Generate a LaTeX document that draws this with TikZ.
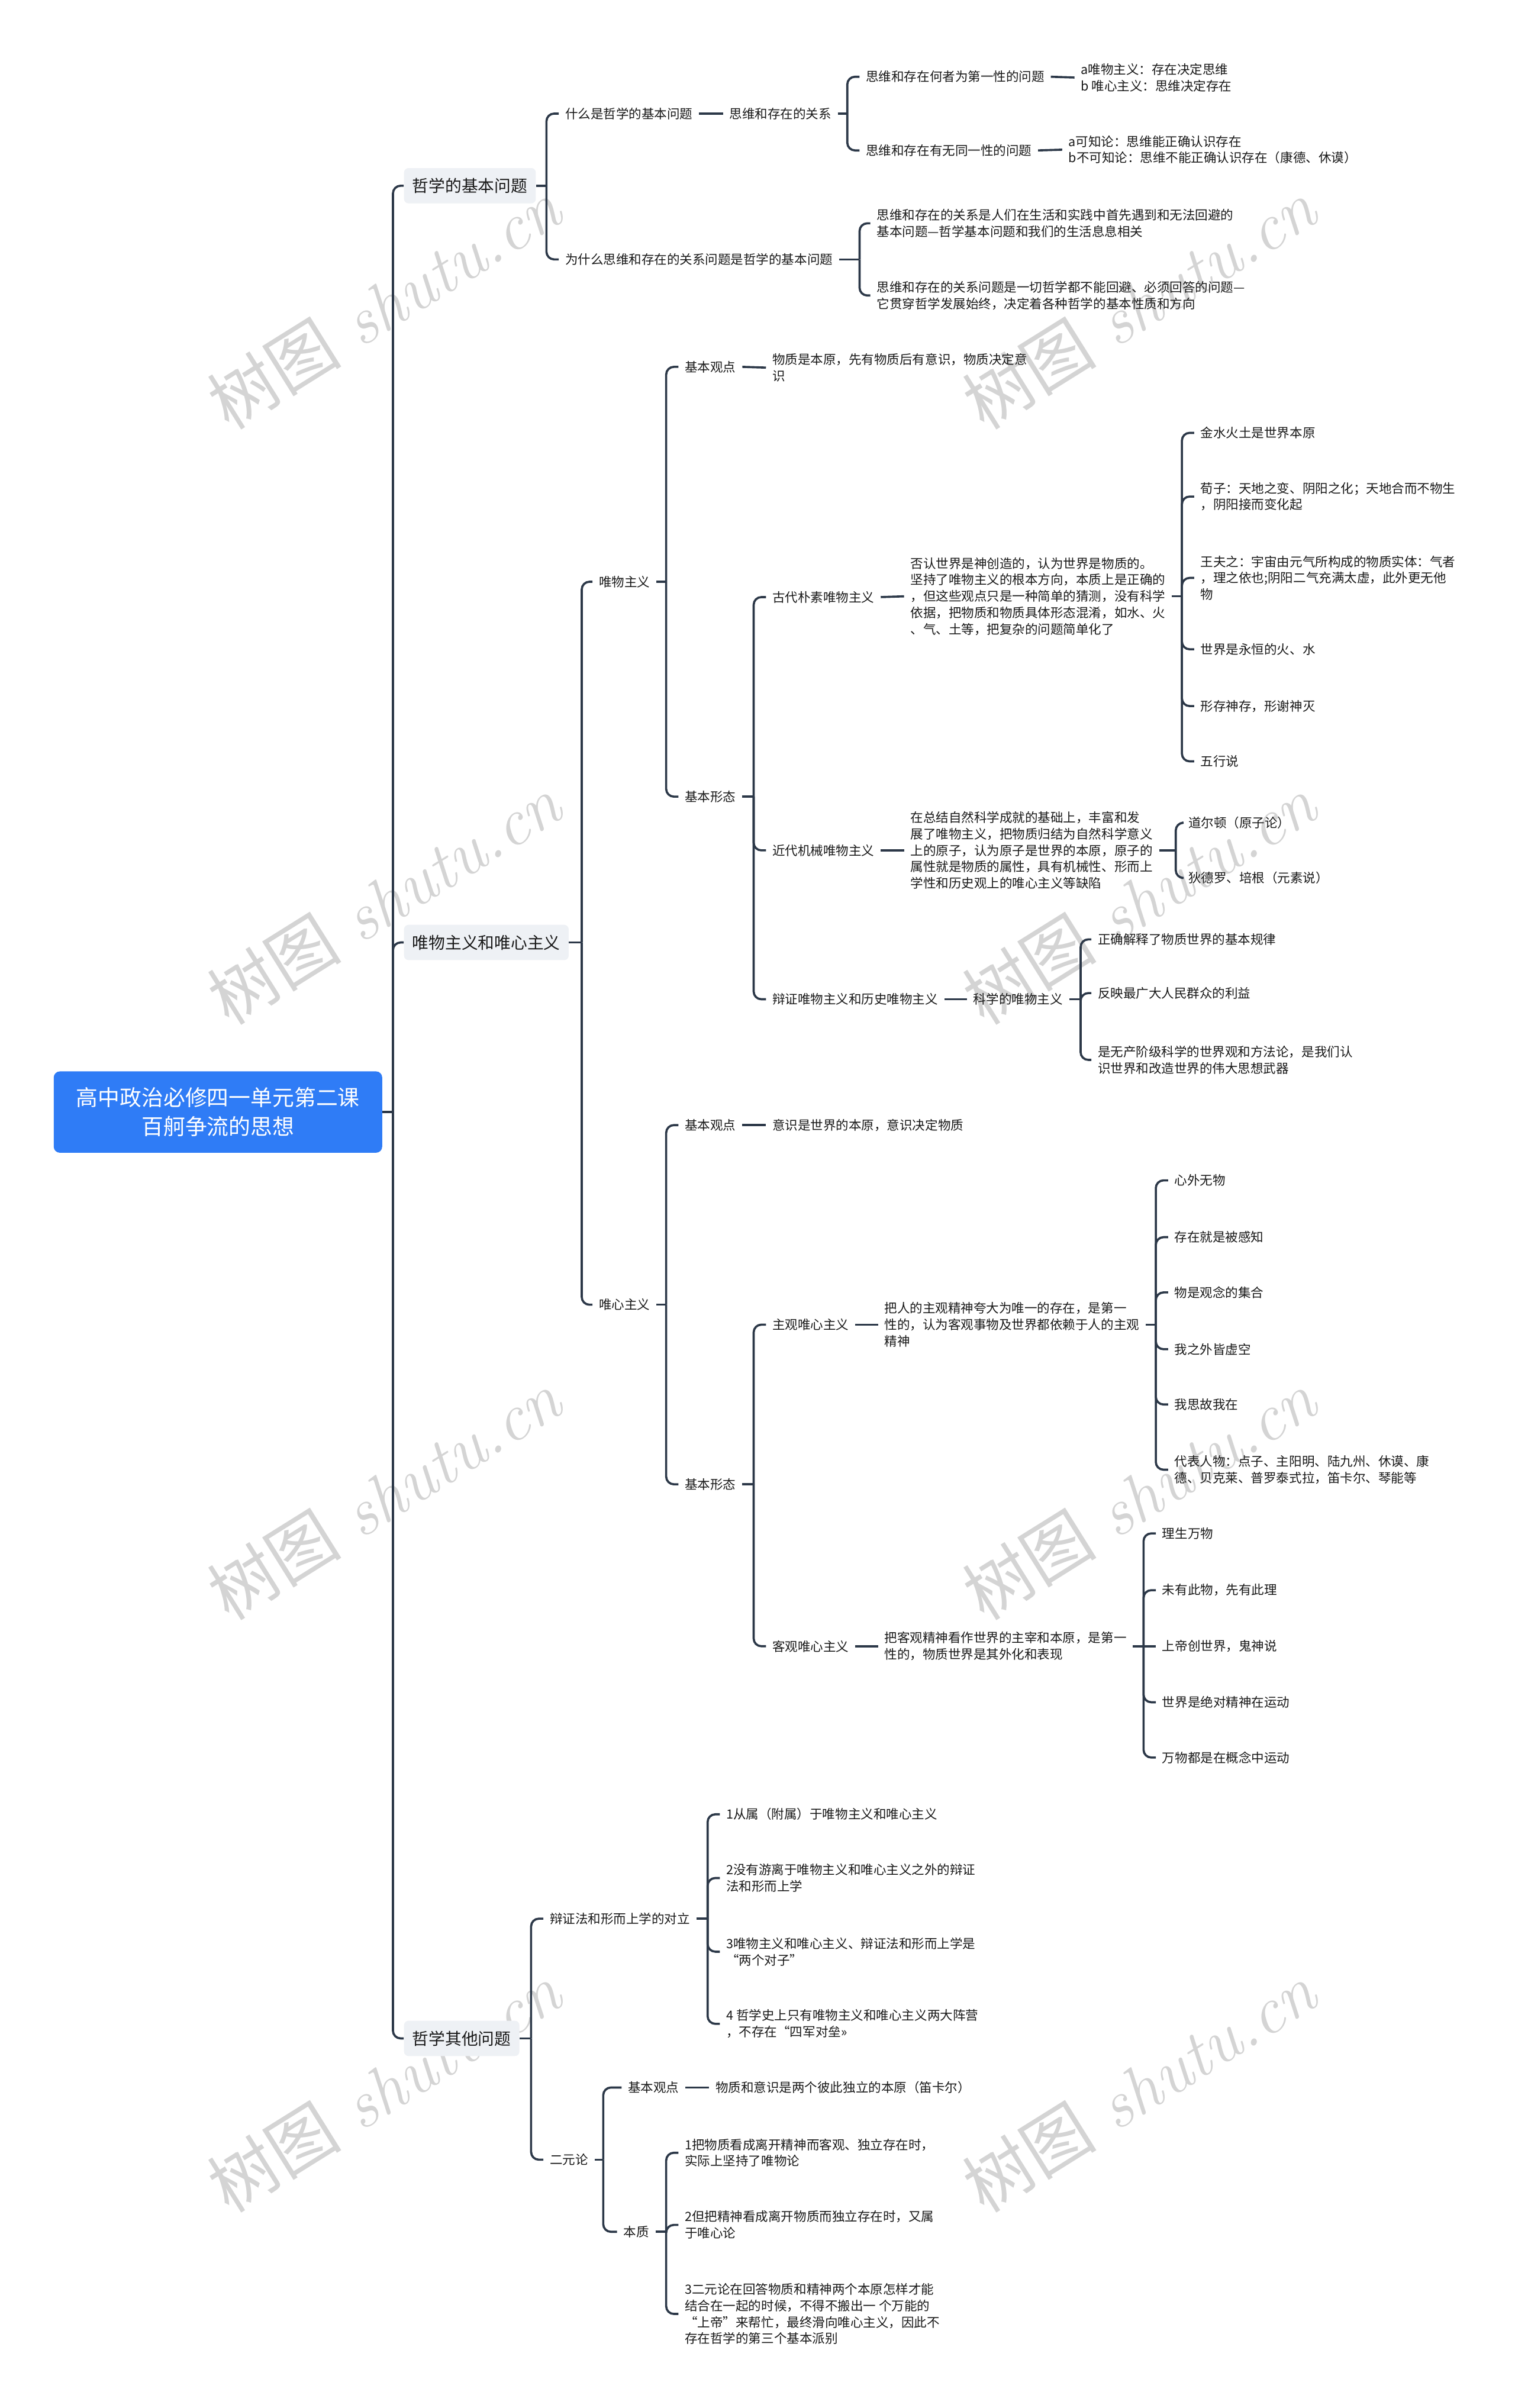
\documentclass[tikz,border=0pt]{standalone}
\usepackage{fontspec}
\newfontfamily\cjk{Noto Sans CJK SC}
\definecolor{ln}{RGB}{44,56,72}
\definecolor{blu}{RGB}{47,124,246}
\definecolor{lvl}{RGB}{238,241,245}
\newcommand\stem[2]{\draw[conn] (#1.east) -- (#2);}
\newcommand\br[2]{\draw[conn] (#1) -- (#1 |- #2.west) -- (#2.west);}
\newcommand\lk[2]{\draw[conn] (#1.east) -- (#2.west);}
\begin{document}
\begin{tikzpicture}[x=1pt,y=-1pt,
 t/.style={font=\cjk\fontsize{8.3}{10.7}\selectfont, inner xsep=4pt, inner ysep=1pt, anchor=west, align=left, text=black!90},
 lone/.style={font=\cjk\fontsize{10.7}{13}\selectfont, fill=lvl, rounded corners=3pt, inner xsep=5.5pt, inner ysep=0pt, minimum height=23pt, anchor=west, text=black!90},
 rootbox/.style={font=\cjk\fontsize{14.2}{19}\selectfont, fill=blu, text=white, rounded corners=4pt, minimum width=214pt, minimum height=53pt, align=center},
 conn/.style={draw=ln, line width=1.4pt, rounded corners=5pt},
 wm/.style={text=black!17, rotate=32, font=\fontsize{44}{44}\selectfont}
]
\fill[white] (0,0) rectangle (987,1568.8);
\useasboundingbox (0,0) rectangle (987,1568.8);
% watermarks
\foreach \wx in {250,742}{
 \foreach \wy in {198,586,974,1360}{
  \node[wm] (w\wx\wy) at (\wx,\wy) {{\cjk 树图} {\itshape shutu.cn}};
 }
}
% root
\node[rootbox] (root) at (142,724.5) {高中政治必修四一单元第二课\\百舸争流的思想};
\coordinate (s0) at (256,724.5);
\node[lone] (A) at (263,121) {哲学的基本问题};
\node[lone] (B) at (263,614) {唯物主义和唯心主义};
\node[lone] (C) at (263,1328) {哲学其他问题};
\stem{root}{s0}
\br{s0}{A}\br{s0}{B}\br{s0}{C}

% ---- A
\coordinate (sA) at (356,121);
\node[t] (A1) at (364,74) {什么是哲学的基本问题};
\node[t] (A2) at (364,169) {为什么思维和存在的关系问题是哲学的基本问题};
\stem{A}{sA}\br{sA}{A1}\br{sA}{A2}
\node[t] (A11) at (471,74) {思维和存在的关系};
\lk{A1}{A11}
\coordinate (sA11) at (552,74);
\node[t] (A111) at (560,50) {思维和存在何者为第一性的问题};
\node[t] (A112) at (560,98) {思维和存在有无同一性的问题};
\stem{A11}{sA11}\br{sA11}{A111}\br{sA11}{A112}
\node[t] (A1111) at (700,50.5) {a唯物主义：存在决定思维\\b 唯心主义：思维决定存在};
\node[t] (A1121) at (692,97.5) {a可知论：思维能正确认识存在\\b不可知论：思维不能正确认识存在（康德、休谟）};
\lk{A111}{A1111}\lk{A112}{A1121}
\coordinate (sA2) at (560,169);
\node[t] (A21) at (567,145.5) {思维和存在的关系是人们在生活和实践中首先遇到和无法回避的\\基本问题—哲学基本问题和我们的生活息息相关};
\node[t] (A22) at (567,192.5) {思维和存在的关系问题是一切哲学都不能回避、必须回答的问题—\\它贯穿哲学发展始终，决定着各种哲学的基本性质和方向};
\stem{A2}{sA2}\br{sA2}{A21}\br{sA2}{A22}

% ---- B
\coordinate (sB) at (379,614);
\node[t] (B1) at (386,379) {唯物主义};
\node[t] (B2) at (386,850) {唯心主义};
\stem{B}{sB}\br{sB}{B1}\br{sB}{B2}
\coordinate (sB1) at (434,379);
\node[t] (B11) at (442,239) {基本观点};
\node[t] (B12) at (442,519) {基本形态};
\stem{B1}{sB1}\br{sB1}{B11}\br{sB1}{B12}
\node[t] (B111) at (499,239.5) {物质是本原，先有物质后有意识，物质决定意\\识};
\lk{B11}{B111}
\coordinate (sB12) at (491,519);
\node[t] (B121) at (499,389) {古代朴素唯物主义};
\node[t] (B122) at (499,554) {近代机械唯物主义};
\node[t] (B123) at (499,651) {辩证唯物主义和历史唯物主义};
\stem{B12}{sB12}\br{sB12}{B121}\br{sB12}{B122}\br{sB12}{B123}
\node[t] (B1211) at (589,388.5) {否认世界是神创造的，认为世界是物质的。\\坚持了唯物主义的根本方向，本质上是正确的\\，但这些观点只是一种简单的猜测，没有科学\\依据，把物质和物质具体形态混淆，如水、火\\、气、土等，把复杂的问题简单化了};
\lk{B121}{B1211}
\coordinate (sB1211) at (770,388.5);
\node[t] (g1) at (778,282) {金水火土是世界本原};
\node[t] (g2) at (778,323.5) {荀子：天地之变、阴阳之化；天地合而不物生\\，阴阳接而变化起};
\node[t] (g3) at (778,376.5) {王夫之：宇宙由元气所构成的物质实体：气者\\，理之依也;阴阳二气充满太虚，此外更无他\\物};
\node[t] (g4) at (778,423) {世界是永恒的火、水};
\node[t] (g5) at (778,460) {形存神存，形谢神灭};
\node[t] (g6) at (778,496) {五行说};
\stem{B1211}{sB1211}
\br{sB1211}{g1}\br{sB1211}{g2}\br{sB1211}{g3}\br{sB1211}{g4}\br{sB1211}{g5}\br{sB1211}{g6}
\node[t] (B1221) at (589,554) {在总结自然科学成就的基础上，丰富和发\\展了唯物主义，把物质归结为自然科学意义\\上的原子，认为原子是世界的本原，原子的\\属性就是物质的属性，具有机械性、形而上\\学性和历史观上的唯心主义等缺陷};
\lk{B122}{B1221}
\coordinate (sB1221) at (766,554);
\node[t] (j1) at (770,536) {道尔顿（原子论）};
\node[t] (j2) at (770,572) {狄德罗、培根（元素说）};
\stem{B1221}{sB1221}\br{sB1221}{j1}\br{sB1221}{j2}
\node[t] (B1231) at (630,651) {科学的唯物主义};
\lk{B123}{B1231}
\coordinate (sB1231) at (704,651);
\node[t] (k1) at (711,612) {正确解释了物质世界的基本规律};
\node[t] (k2) at (711,647) {反映最广大人民群众的利益};
\node[t] (k3) at (711,690.5) {是无产阶级科学的世界观和方法论，是我们认\\识世界和改造世界的伟大思想武器};
\stem{B1231}{sB1231}\br{sB1231}{k1}\br{sB1231}{k2}\br{sB1231}{k3}

\coordinate (sB2) at (434,850);
\node[t] (B21) at (442,733) {基本观点};
\node[t] (B22) at (442,967) {基本形态};
\stem{B2}{sB2}\br{sB2}{B21}\br{sB2}{B22}
\node[t] (B211) at (499,733) {意识是世界的本原，意识决定物质};
\lk{B21}{B211}
\coordinate (sB22) at (491,967);
\node[t] (B221) at (499,863) {主观唯心主义};
\node[t] (B222) at (499,1072.5) {客观唯心主义};
\stem{B22}{sB22}\br{sB22}{B221}\br{sB22}{B222}
\node[t] (B2211) at (572,863) {把人的主观精神夸大为唯一的存在，是第一\\性的，认为客观事物及世界都依赖于人的主观\\精神};
\lk{B221}{B2211}
\coordinate (sB2211) at (753,863);
\node[t] (m1) at (761,769) {心外无物};
\node[t] (m2) at (761,806) {存在就是被感知};
\node[t] (m3) at (761,842) {物是观念的集合};
\node[t] (m4) at (761,879) {我之外皆虚空};
\node[t] (m5) at (761,915) {我思故我在};
\node[t] (m6) at (761,957.5) {代表人物：点子、主阳明、陆九州、休谟、康\\德、贝克莱、普罗泰式拉，笛卡尔、琴能等};
\stem{B2211}{sB2211}
\br{sB2211}{m1}\br{sB2211}{m2}\br{sB2211}{m3}\br{sB2211}{m4}\br{sB2211}{m5}\br{sB2211}{m6}
\node[t] (B2221) at (572,1072.5) {把客观精神看作世界的主宰和本原，是第一\\性的，物质世界是其外化和表现};
\lk{B222}{B2221}
\coordinate (sB2221) at (745,1072.5);
\node[t] (n1) at (753,999) {理生万物};
\node[t] (n2) at (753,1036) {未有此物，先有此理};
\node[t] (n3) at (753,1072.5) {上帝创世界，鬼神说};
\node[t] (n4) at (753,1109) {世界是绝对精神在运动};
\node[t] (n5) at (753,1145) {万物都是在概念中运动};
\stem{B2221}{sB2221}
\br{sB2221}{n1}\br{sB2221}{n2}\draw[conn] (sB2221) -- (n3.west);\br{sB2221}{n4}\br{sB2221}{n5}

% ---- C
\coordinate (sC) at (346,1328);
\node[t] (C1) at (354,1250) {辩证法和形而上学的对立};
\node[t] (C2) at (354,1407) {二元论};
\stem{C}{sC}\br{sC}{C1}\br{sC}{C2}
\coordinate (sC1) at (461,1250);
\node[t] (p1) at (469,1182) {1从属（附属）于唯物主义和唯心主义};
\node[t] (p2) at (469,1223.5) {2没有游离于唯物主义和唯心主义之外的辩证\\法和形而上学};
\node[t] (p3) at (469,1271.5) {3唯物主义和唯心主义、辩证法和形而上学是\\“两个对子”};
\node[t] (p4) at (469,1318.5) {4 哲学史上只有唯物主义和唯心主义两大阵营\\，不存在“四军对垒»};
\stem{C1}{sC1}\br{sC1}{p1}\br{sC1}{p2}\br{sC1}{p3}\br{sC1}{p4}
\coordinate (sC2) at (393,1407);
\node[t] (C21) at (405,1360) {基本观点};
\node[t] (C22) at (402,1454) {本质};
\stem{C2}{sC2}\br{sC2}{C21}\br{sC2}{C22}
\node[t] (C211) at (462,1360) {物质和意识是两个彼此独立的本原（笛卡尔）};
\lk{C21}{C211}
\coordinate (sC22) at (434,1454);
\node[t] (q1) at (442,1402.5) {1把物质看成离开精神而客观、独立存在时，\\实际上坚持了唯物论};
\node[t] (q2) at (442,1449.5) {2但把精神看成离开物质而独立存在时，又属\\于唯心论};
\node[t] (q3) at (442,1507.5) {3二元论在回答物质和精神两个本原怎样才能\\结合在一起的时候，不得不搬出一 个万能的\\“上帝”来帮忙，最终滑向唯心主义，因此不\\存在哲学的第三个基本派别};
\stem{C22}{sC22}\br{sC22}{q1}\br{sC22}{q2}\br{sC22}{q3}
\end{tikzpicture}
\end{document}
